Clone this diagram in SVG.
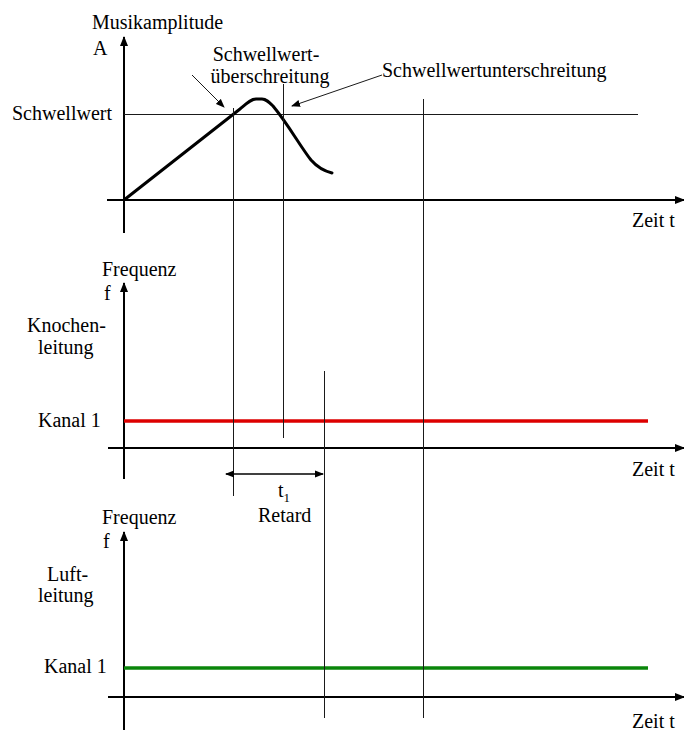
<svg xmlns="http://www.w3.org/2000/svg" width="684" height="731" viewBox="0 0 684 731" font-family="'Liberation Serif', 'Times New Roman', 'DejaVu Serif', serif">
<style>
text{font-family:"Liberation Serif","Times New Roman","DejaVu Serif",serif;font-size:20px;fill:#000}
.axis{stroke:#000;stroke-width:2;fill:none}
.thin{stroke:#1a1a1a;stroke-width:1;fill:none}
.curve{stroke:#000;stroke-width:3;fill:none;stroke-linejoin:round;stroke-linecap:round}
.call{stroke:#1a1a1a;stroke-width:1;fill:none}
</style>
<defs>
<marker id="ah" markerUnits="userSpaceOnUse" markerWidth="10" markerHeight="8" refX="9" refY="4" orient="auto">
<path d="M0,0 L10,4 L0,8 Z" fill="#000"/>
</marker>
<marker id="sh" markerUnits="userSpaceOnUse" markerWidth="9" markerHeight="8" refX="8" refY="4" orient="auto-start-reverse">
<path d="M0,0.5 L9,4 L0,7.5 Z" fill="#000"/>
</marker>
</defs>

<g id="top-chart">
<line class="axis" x1="124" y1="233" x2="124" y2="37" marker-end="url(#ah)"/>
<line class="axis" x1="107" y1="200" x2="684" y2="200" marker-end="url(#ah)"/>
<line class="thin" x1="124" y1="114.5" x2="638" y2="114.5"/>
<path class="curve" d="M124,200 L240,109 C247,103 251,99 256,99 L262,99 C266,99 269,102 273,106 C288,124 300,146 311,160 C318,168 324,171 332,173"/>
<text x="92" y="29">Musikamplitude</text>
<text x="93" y="55">A</text>
<text x="12" y="120">Schwellwert</text>
<text x="266" y="61" text-anchor="middle">Schwellwert-</text>
<text x="270" y="83" text-anchor="middle">überschreitung</text>
<text x="382" y="77">Schwellwertunterschreitung</text>
<text x="632" y="227">Zeit t</text>
</g>

<g id="middle-chart">
<line class="axis" x1="124" y1="479" x2="124" y2="283" marker-end="url(#ah)"/>
<line class="axis" x1="108" y1="448" x2="684" y2="448" marker-end="url(#ah)"/>
<line x1="124" y1="421" x2="648" y2="421" stroke="#dd0000" stroke-width="3.5"/>
<text x="102" y="276">Frequenz</text>
<text x="104" y="300">f</text>
<text x="27" y="332">Knochen-</text>
<text x="38" y="354">leitung</text>
<text x="38" y="427">Kanal 1</text>
<text x="632" y="476">Zeit t</text>
<text x="278" y="497">t<tspan font-size="13" dy="5">1</tspan></text>
<text x="258" y="522">Retard</text>
</g>

<g id="bottom-chart">
<line class="axis" x1="124" y1="730" x2="124" y2="532" marker-end="url(#ah)"/>
<line class="axis" x1="108" y1="697" x2="684" y2="697" marker-end="url(#ah)"/>
<line x1="124" y1="668" x2="648" y2="668" stroke="#0a860a" stroke-width="3.5"/>
<text x="102" y="524">Frequenz</text>
<text x="103" y="548">f</text>
<text x="47" y="581">Luft-</text>
<text x="38" y="602">leitung</text>
<text x="44" y="673">Kanal 1</text>
<text x="632" y="728">Zeit t</text>
</g>

<g id="connectors">
<line class="thin" x1="233.5" y1="108" x2="233.5" y2="496"/>
<line class="thin" x1="283.5" y1="84" x2="283.5" y2="438"/>
<line class="thin" x1="324.5" y1="371" x2="324.5" y2="718"/>
<line class="thin" x1="423.5" y1="99" x2="423.5" y2="718"/>
<line class="call" x1="192" y1="75" x2="224" y2="107" marker-end="url(#sh)"/>
<line class="call" x1="382" y1="75" x2="292" y2="106" marker-end="url(#sh)"/>
<line stroke="#000" stroke-width="1.3" x1="226" y1="474" x2="323" y2="474" marker-start="url(#sh)" marker-end="url(#sh)"/>
</g>
</svg>
